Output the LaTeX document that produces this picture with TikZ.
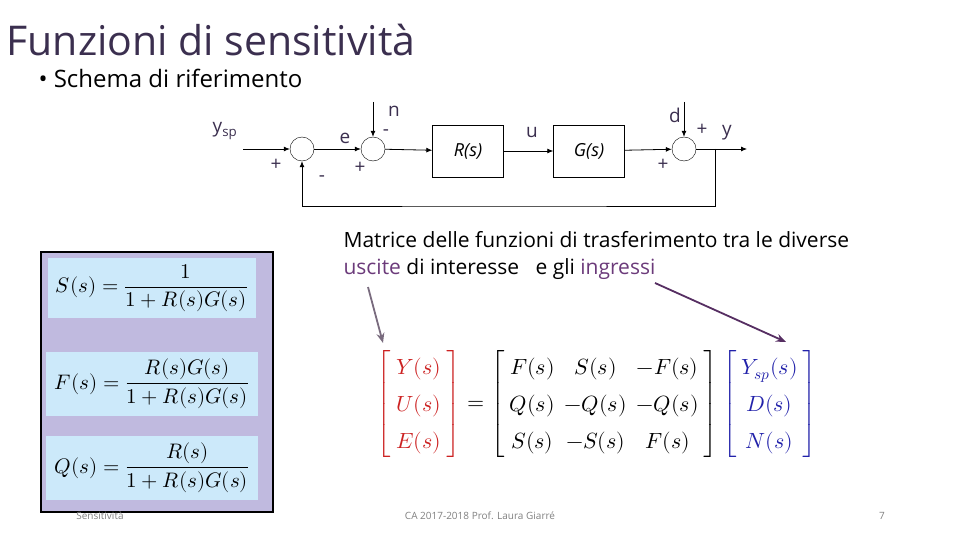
\documentclass[tikz,border=0pt]{standalone}
\usepackage{fontspec}
\setmainfont{Open Sans}
\usepackage{unicode-math}
\setmathfont{Latin Modern Math}
\usetikzlibrary{arrows.meta}
\definecolor{titc}{HTML}{3B2F4F}
\definecolor{purp}{HTML}{6B3A7A}
\definecolor{lav}{HTML}{C0BADF}
\definecolor{lblue}{HTML}{CCE9FA}
\definecolor{mred}{HTML}{CC2222}
\definecolor{mblue}{HTML}{2222AA}
\tikzset{
 sumc/.style={draw,circle,minimum size=24pt,inner sep=0pt},
 blk/.style={draw,minimum width=71pt,minimum height=52pt,inner sep=0pt,font=\fontsize{18}{18}\selectfont\itshape},
 sig/.style={-{Latex[length=6pt,width=5pt]},thick},
 lbl/.style={font=\fontsize{19}{19}\selectfont,text=titc},
 fbox/.style={fill=lblue,inner sep=1pt,font=\fontsize{21}{23}\selectfont},
 foot/.style={font=\fontsize{10}{10}\selectfont,text=gray},
 pointer/.style={-{Stealth[length=10pt,width=8pt]},line width=1.8pt}
}
\begin{document}
\begin{tikzpicture}[x=1pt,y=-1pt]
\useasboundingbox (0,0) rectangle (960,540);
\node[anchor=west,font=\fontsize{41}{41}\selectfont,text=titc] (title) at (3,40) {Funzioni di sensitività};
\node[anchor=west,font=\fontsize{24}{24}\selectfont] (sub) at (35,78) {• Schema di riferimento};
% block diagram
\coordinate (in) at (243,149);
\node[sumc] (c1) at (302,149) {};
\node[sumc] (c2) at (373,149) {};
\node[blk] (R) at (468,151) {R(s)};
\node[blk] (G) at (589,151) {G(s)};
\node[sumc] (c3) at (684,149) {};
\coordinate (nt) at (373,102);
\coordinate (dt) at (684,102);
\coordinate (out) at (747,149);
\coordinate (fb) at (715,149);
\draw[sig] (in) -- (c1);
\draw[sig] (c1) -- (c2);
\draw[sig] (c2) -- (R);
\draw[sig] (R) -- (G);
\draw[sig] (G) -- (c3);
\draw[sig] (c3) -- (out);
\draw[sig] (nt) -- (c2);
\draw[sig] (dt) -- (c3);
\draw[sig] (fb) |- (500,206) -| (c1);
\node[lbl] (ysp) at (225,131) {y\textsubscript{sp}};
\node[lbl] (p1) at (276,165) {+};
\node[lbl] (m1) at (322,179) {-};
\node[lbl] (e) at (345,138) {e};
\node[lbl] (p2) at (360,168) {+};
\node[lbl] (n) at (394,111) {n};
\node[lbl] (m2) at (386,133) {-};
\node[lbl] (u) at (532,133) {u};
\node[lbl] (d) at (675,115) {d};
\node[lbl] (p3) at (702,130) {+};
\node[lbl] (y) at (727,133) {y};
\node[lbl] (p4) at (663,165) {+};
% left panel
\node[draw=black,line width=1.5pt,fill=lav,minimum width=232pt,minimum height=260pt,anchor=north west,inner sep=0pt] (panel) at (40,251) {};
\node[fbox,minimum width=208pt,minimum height=60pt] (S) at (152,288) {$S(s)=\dfrac{1}{1+R(s)G(s)}$};
\node[fbox,minimum width=212pt,minimum height=64pt] (F) at (152,384) {$F(s)=\dfrac{R(s)G(s)}{1+R(s)G(s)}$};
\node[fbox,minimum width=212pt,minimum height=64pt] (Q) at (152,468) {$Q(s)=\dfrac{R(s)}{1+R(s)G(s)}$};
% text
\node[anchor=west,font=\fontsize{21}{21}\selectfont] (t1) at (340,240) {Matrice delle funzioni di trasferimento tra le diverse};
\node[anchor=west,font=\fontsize{21}{21}\selectfont] (t2) at (340,269) {\textcolor{purp}{uscite} di interesse\ \ \ e gli \textcolor{purp}{ingressi}};
\node[font=\fontsize{22}{24}\selectfont] (mat) at (597,404) {$\renewcommand{\arraystretch}{1.55}\color{mred}\left[\begin{array}{c}Y(s)\\U(s)\\E(s)\end{array}\right]\color{black} = \left[\begin{array}{ccc}F(s)&S(s)&-F(s)\\Q(s)&-Q(s)&-Q(s)\\S(s)&-S(s)&F(s)\end{array}\right]\color{mblue}\left[\begin{array}{c}Y_{sp}(s)\\D(s)\\N(s)\end{array}\right]$};
\coordinate (a1s) at (368,287);
\coordinate (a1e) at (383,343);
\coordinate (a2s) at (655,283);
\coordinate (a2e) at (786,342);
\draw[pointer,draw=gray!70!purp] (a1s) -- (a1e);
\draw[pointer,draw=purp!80!black] (a2s) -- (a2e);
% footer
\node[foot] (f1) at (100,516) {Sensitività};
\node[foot] (f2) at (480,516) {CA 2017-2018 Prof. Laura Giarré};
\node[foot] (f3) at (882,516) {7};
\end{tikzpicture}
\end{document}
